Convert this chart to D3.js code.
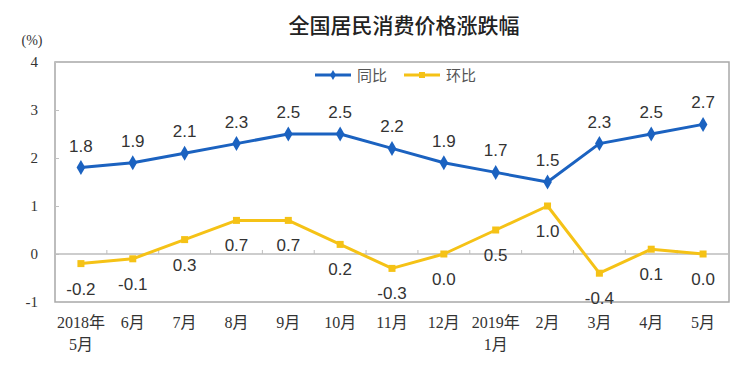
<!DOCTYPE html>
<html>
<head>
<meta charset="utf-8">
<script src="https://cdn.jsdelivr.net/npm/d3@7"></script>
<style>
  html, body { margin: 0; padding: 0; background: #fff; }
  svg { display: block; }
</style>
</head>
<body>
<svg id="chart" width="754" height="365"></svg>
<script>
// ---- Data ----
const categories = ["2018年\n5月", "6月", "7月", "8月", "9月", "10月", "11月", "12月", "2019年\n1月", "2月", "3月", "4月", "5月"];
const yoyValues = [1.8, 1.9, 2.1, 2.3, 2.5, 2.5, 2.2, 1.9, 1.7, 1.5, 2.3, 2.5, 2.7];   // 同比
const momValues = [-0.2, -0.1, 0.3, 0.7, 0.7, 0.2, -0.3, 0.0, 0.5, 1.0, -0.4, 0.1, 0.0]; // 环比
const yTicks = [-1, 0, 1, 2, 3, 4];
const seriesNames = ["同比", "环比"];
const titleText = "全国居民消费价格涨跌幅";
const unitText = "(%)";

(function () {
// ---- Layout ----
const svg = d3.select("#chart");
const pLeft = 55, pRight = 729, pTop = 62, pBottom = 302;
const blue = "#1b62c0", yellow = "#f5c216";
const serif = "'Liberation Serif','Times New Roman','Noto Sans CJK SC',serif";
const sans = "'Liberation Sans',Arial,'Noto Sans CJK SC',sans-serif";
const fmt1 = v => d3.format(".1f")(v).replace("\u2212", "-");
const fmt0 = v => d3.format("d")(v).replace("\u2212", "-");

const x = d3.scaleBand().domain(d3.range(categories.length)).range([pLeft, pRight]).padding(0);
const y = d3.scaleLinear().domain([-1, 4]).range([pBottom, pTop]);
const cx = i => x(i) + x.bandwidth() / 2;

// Title
svg.append("text").attr("x", 404).attr("y", 33).attr("text-anchor", "middle")
  .attr("font-family", "'Noto Sans CJK SC',sans-serif").attr("font-size", 21).attr("font-weight", 500)
  .attr("fill", "#222").text(titleText);

// Unit
svg.append("text").attr("x", 32).attr("y", 45).attr("text-anchor", "middle")
  .attr("font-family", serif).attr("font-size", 14).attr("fill", "#333").text(unitText);

// Plot frame
svg.append("rect").attr("x", pLeft).attr("y", pTop).attr("width", pRight - pLeft).attr("height", pBottom - pTop)
  .attr("fill", "none").attr("stroke", "#a8a8a8").attr("stroke-width", 1.5);

// Y axis
const yAxis = d3.axisLeft(y).tickValues(yTicks).tickFormat(fmt0)
  .tickSizeInner(-4).tickSizeOuter(0).tickPadding(17);
const gy = svg.append("g").attr("transform", `translate(${pLeft},0)`).call(yAxis);
gy.select(".domain").remove();
gy.selectAll(".tick line").attr("stroke", "#c0c0c0");
gy.selectAll(".tick text").attr("font-family", serif).attr("font-size", 15).attr("fill", "#333");

// Zero line with upward ticks at category boundaries
svg.append("line").attr("x1", pLeft).attr("x2", pRight).attr("y1", y(0)).attr("y2", y(0))
  .attr("stroke", "#bdbdbd").attr("stroke-width", 1.5);
svg.append("g").selectAll("line").data(d3.range(1, categories.length)).join("line")
  .attr("x1", d => x(d)).attr("x2", d => x(d)).attr("y1", y(0)).attr("y2", y(0) - 4)
  .attr("stroke", "#bdbdbd").attr("stroke-width", 1);

// X labels
const xl = svg.append("g").selectAll("text").data(categories).join("text")
  .attr("text-anchor", "middle").attr("font-family", serif).attr("font-size", 16).attr("fill", "#333");
xl.each(function (d, i) {
  const lines = d.split("\n");
  d3.select(this).selectAll("tspan").data(lines).join("tspan")
    .attr("x", cx(i)).attr("y", (l, k) => 328 + k * 22).text(l => l);
});

// Lines
const lineGen = d3.line().x((d, i) => cx(i)).y(d => y(d));
svg.append("path").datum(momValues).attr("d", lineGen).attr("fill", "none")
  .attr("stroke", yellow).attr("stroke-width", 3).attr("stroke-linejoin", "round");
svg.append("path").datum(yoyValues).attr("d", lineGen).attr("fill", "none")
  .attr("stroke", blue).attr("stroke-width", 3).attr("stroke-linejoin", "round");

// Markers
svg.append("g").selectAll("path").data(yoyValues).join("path")
  .attr("d", d3.symbol().type(d3.symbolDiamond).size(65))
  .attr("transform", (d, i) => `translate(${cx(i)},${y(d)})`).attr("fill", blue);
svg.append("g").selectAll("rect").data(momValues).join("rect")
  .attr("x", (d, i) => cx(i) - 3.5).attr("y", d => y(d) - 3.5).attr("width", 7).attr("height", 7)
  .attr("fill", yellow);

// Data labels
svg.append("g").selectAll("text").data(yoyValues).join("text")
  .attr("x", (d, i) => cx(i)).attr("y", d => y(d) - 16).attr("text-anchor", "middle")
  .attr("font-family", sans).attr("font-size", 17).attr("fill", "#333")
  .text(fmt1);
svg.append("g").selectAll("text").data(momValues).join("text")
  .attr("x", (d, i) => cx(i)).attr("y", d => y(d) + 31).attr("text-anchor", "middle")
  .attr("font-family", sans).attr("font-size", 17).attr("fill", "#333")
  .text(fmt1);

// Legend
const legend = svg.append("g");
const legendItems = [
  { name: seriesNames[0], color: blue, x0: 315, type: "diamond" },
  { name: seriesNames[1], color: yellow, x0: 404, type: "square" }
];
legendItems.forEach(it => {
  legend.append("line").attr("x1", it.x0).attr("x2", it.x0 + 36).attr("y1", 75).attr("y2", 75)
    .attr("stroke", it.color).attr("stroke-width", 3);
  if (it.type === "diamond") {
    legend.append("path").attr("d", d3.symbol().type(d3.symbolDiamond).size(30))
      .attr("transform", `translate(${it.x0 + 18},75)`).attr("fill", it.color);
  } else {
    legend.append("rect").attr("x", it.x0 + 15).attr("y", 72).attr("width", 6).attr("height", 6).attr("fill", it.color);
  }
  legend.append("text").attr("x", it.x0 + 42).attr("y", 80.5)
    .attr("font-family", "'Noto Sans CJK SC',sans-serif").attr("font-size", 15).attr("fill", "#555").text(it.name);
});
})();
</script>
</body>
</html>
